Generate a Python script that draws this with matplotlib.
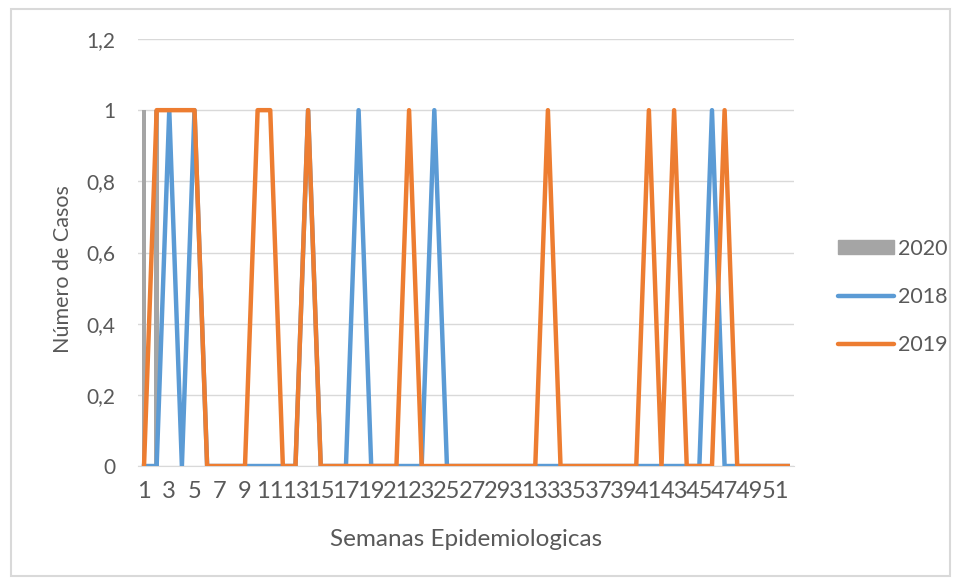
import numpy as np
import matplotlib.pyplot as plt
from matplotlib.patches import Rectangle, Patch
from matplotlib.lines import Line2D

# semanas epidemiologicas 1..52
semanas = np.arange(1, 53)

# semanas con 1 caso
picos_2018 = [3, 5, 14, 18, 24, 46]
picos_2019 = [2, 3, 4, 5, 10, 11, 14, 22, 33, 41, 43, 47]
semanas_2020 = [1, 2]
casos_2020 = [1, 1]

casos_2018 = np.zeros(len(semanas))
casos_2018[np.array(picos_2018) - 1] = 1
casos_2019 = np.zeros(len(semanas))
casos_2019[np.array(picos_2019) - 1] = 1

plt.rcParams['font.family'] = ['Lato', 'DejaVu Sans']
gris_txt = '#595959'

fig = plt.figure(figsize=(9.57, 5.81), dpi=100)
ax = fig.add_axes([0.1439, 0.1979, 0.6858, 0.7350])

ax.bar(semanas_2020, casos_2020, width=0.35, color='#a5a5a5', zorder=2)
ax.plot(semanas, casos_2018, color='#5b9bd5', lw=3.2, zorder=3)
ax.plot(semanas, casos_2019, color='#ed7d31', lw=3.2, zorder=4)

ax.set_xlim(0.5, 52.5)
ax.set_ylim(0, 1.2)
yt = np.arange(0, 1.21, 0.2)
ax.set_yticks(yt)
ax.set_yticklabels(['0' if v == 0 else ('%g' % round(v, 1)).replace('.', ',') for v in yt])
ax.set_xticks(semanas[::2])
ax.set_xticklabels([str(s) for s in semanas[::2]])
ax.grid(axis='y', color='#d9d9d9', lw=1, zorder=0)
for s in ['top', 'right', 'left']:
    ax.spines[s].set_visible(False)
ax.spines['bottom'].set_color('#d9d9d9')
ax.tick_params(axis='x', length=0, labelsize=17, labelcolor=gris_txt, pad=11)
ax.tick_params(axis='y', length=0, labelsize=15, labelcolor=gris_txt, pad=16)

ax.set_xlabel('Semanas Epidemiologicas', fontsize=17.5, color=gris_txt, labelpad=19)
ax.set_ylabel('Número de Casos', fontsize=15.5, color=gris_txt)
ax.yaxis.set_label_coords(-0.098, 0.461)

handles = [Patch(color='#a5a5a5'),
           Line2D([], [], color='#5b9bd5', lw=3.2, solid_capstyle='round'),
           Line2D([], [], color='#ed7d31', lw=3.2, solid_capstyle='round')]
fig.legend(handles, ['2020', '2018', '2019'], loc='center left',
           bbox_to_anchor=(0.855, 0.489), frameon=False, fontsize=15.5,
           labelcolor=gris_txt, handlelength=2.6, handleheight=0.6,
           handletextpad=0.2, labelspacing=1.3)

fig.patches.append(Rectangle((11 / 957, 5 / 581), 939 / 957, 567 / 581,
                             transform=fig.transFigure, fill=False,
                             edgecolor='#d9d9d9', lw=1.5))

fig.savefig('out.png', dpi=100)
